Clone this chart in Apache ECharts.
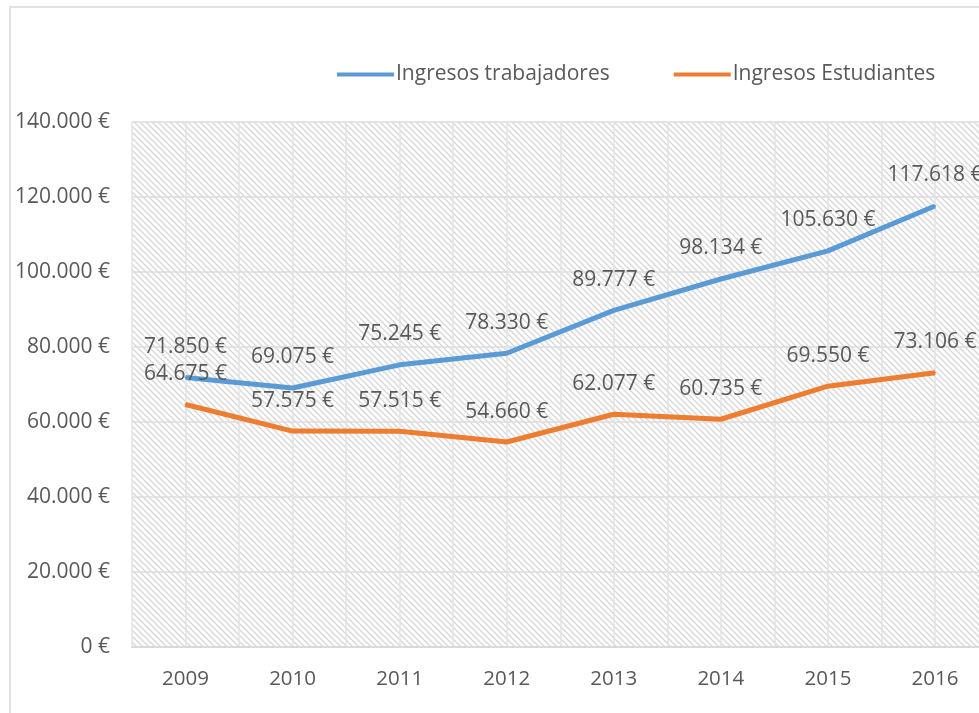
<!DOCTYPE html>
<html>
<head>
<meta charset="utf-8">
<script src="https://cdn.jsdelivr.net/npm/echarts@6/dist/echarts.min.js"></script>
<style>
  html, body { margin: 0; padding: 0; background: #fff; }
  #chart { width: 979px; height: 713px; }
</style>
</head>
<body>
<div id="chart"></div>
<script>
// datos del grafico
const years = ["2009", "2010", "2011", "2012", "2013", "2014", "2015", "2016"];
const trabajadores = [71850, 69075, 75245, 78330, 89777, 98134, 105630, 117618];
const estudiantes = [64675, 57575, 57515, 54660, 62077, 60735, 69550, 73106];
const yTicks = { min: 0, max: 140000, step: 20000 };

const FONT = "'Open Sans', sans-serif";
const GREY = "#595959";

// formato 71.850 €
function euro(v) {
  return String(v).replace(/\B(?=(\d{3})+(?!\d))/g, ".") + " €";
}

// trama diagonal del fondo
function hatch() {
  const c = document.createElement("canvas");
  c.width = 6;
  c.height = 6;
  const ctx = c.getContext("2d");
  ctx.fillStyle = "#ffffff";
  ctx.fillRect(0, 0, 6, 6);
  ctx.strokeStyle = "#d6d6d6";
  ctx.lineWidth = 1.3;
  ctx.beginPath();
  ctx.moveTo(-1, -1); ctx.lineTo(7, 7);
  ctx.moveTo(-1, 5); ctx.lineTo(1, 7);
  ctx.moveTo(5, -1); ctx.lineTo(7, 1);
  ctx.stroke();
  return c;
}

const chart = echarts.init(document.getElementById("chart"));

function lineSeries(name, data, color) {
  return {
    name: name,
    type: "line",
    data: data,
    symbol: "circle",
    symbolSize: 2,
    itemStyle: { color: color },
    lineStyle: { color: color, width: 5 },
    label: {
      show: true,
      position: "top",
      distance: 19,
      color: GREY,
      fontFamily: FONT,
      fontSize: 21,
      formatter: p => euro(p.value)
    },
    z: 5
  };
}

chart.setOption({
  animation: false,
  backgroundColor: "#fff",
  textStyle: { fontFamily: FONT },
  graphic: [{
    type: "rect",
    shape: { x: 10, y: 7, width: 1100, height: 800 },
    style: { fill: null, stroke: "#d9d9d9", lineWidth: 1.5 },
    silent: true
  }],
  legend: {
    left: 332,
    top: 59,
    icon: "rect",
    itemWidth: 57,
    itemHeight: 4,
    itemGap: 64,
    textStyle: { color: GREY, fontSize: 21, fontFamily: FONT, padding: [0, 0, 0, -3] },
    data: ["Ingresos trabajadores", "Ingresos Estudiantes"]
  },
  grid: {
    left: 132,
    right: -9.5,
    top: 122,
    bottom: 66,
    outerBoundsMode: "none",
    containLabel: false,
    show: true,
    borderWidth: 0,
    backgroundColor: { image: hatch(), repeat: "repeat" }
  },
  xAxis: [{
    type: "category",
    data: years,
    boundaryGap: true,
    axisLine: { lineStyle: { color: "#d9d9d9", width: 2 } },
    axisTick: { show: false },
    axisLabel: { color: GREY, fontSize: 20.5, fontFamily: FONT, margin: 22 },
    splitLine: { show: false }
  }, {
    // lineas verticales cada media categoria
    type: "value",
    min: 0,
    max: years.length * 2,
    interval: 1,
    position: "bottom",
    axisLine: { show: false },
    axisTick: { show: false },
    axisLabel: { show: false },
    splitLine: { show: true, lineStyle: { color: "#e3e3e3", width: 1.5 } }
  }],
  yAxis: {
    type: "value",
    min: yTicks.min,
    max: yTicks.max,
    interval: yTicks.step,
    axisLine: { show: false },
    axisTick: { show: false },
    axisLabel: {
      color: GREY, fontSize: 21, fontFamily: FONT, margin: 22,
      formatter: v => euro(v)
    },
    splitLine: { lineStyle: { color: "#dcdcdc", width: 1.5 } }
  },
  series: [
    lineSeries("Ingresos trabajadores", trabajadores, "#5B9BD5"),
    lineSeries("Ingresos Estudiantes", estudiantes, "#ED7D31")
  ]
});
</script>
</body>
</html>
